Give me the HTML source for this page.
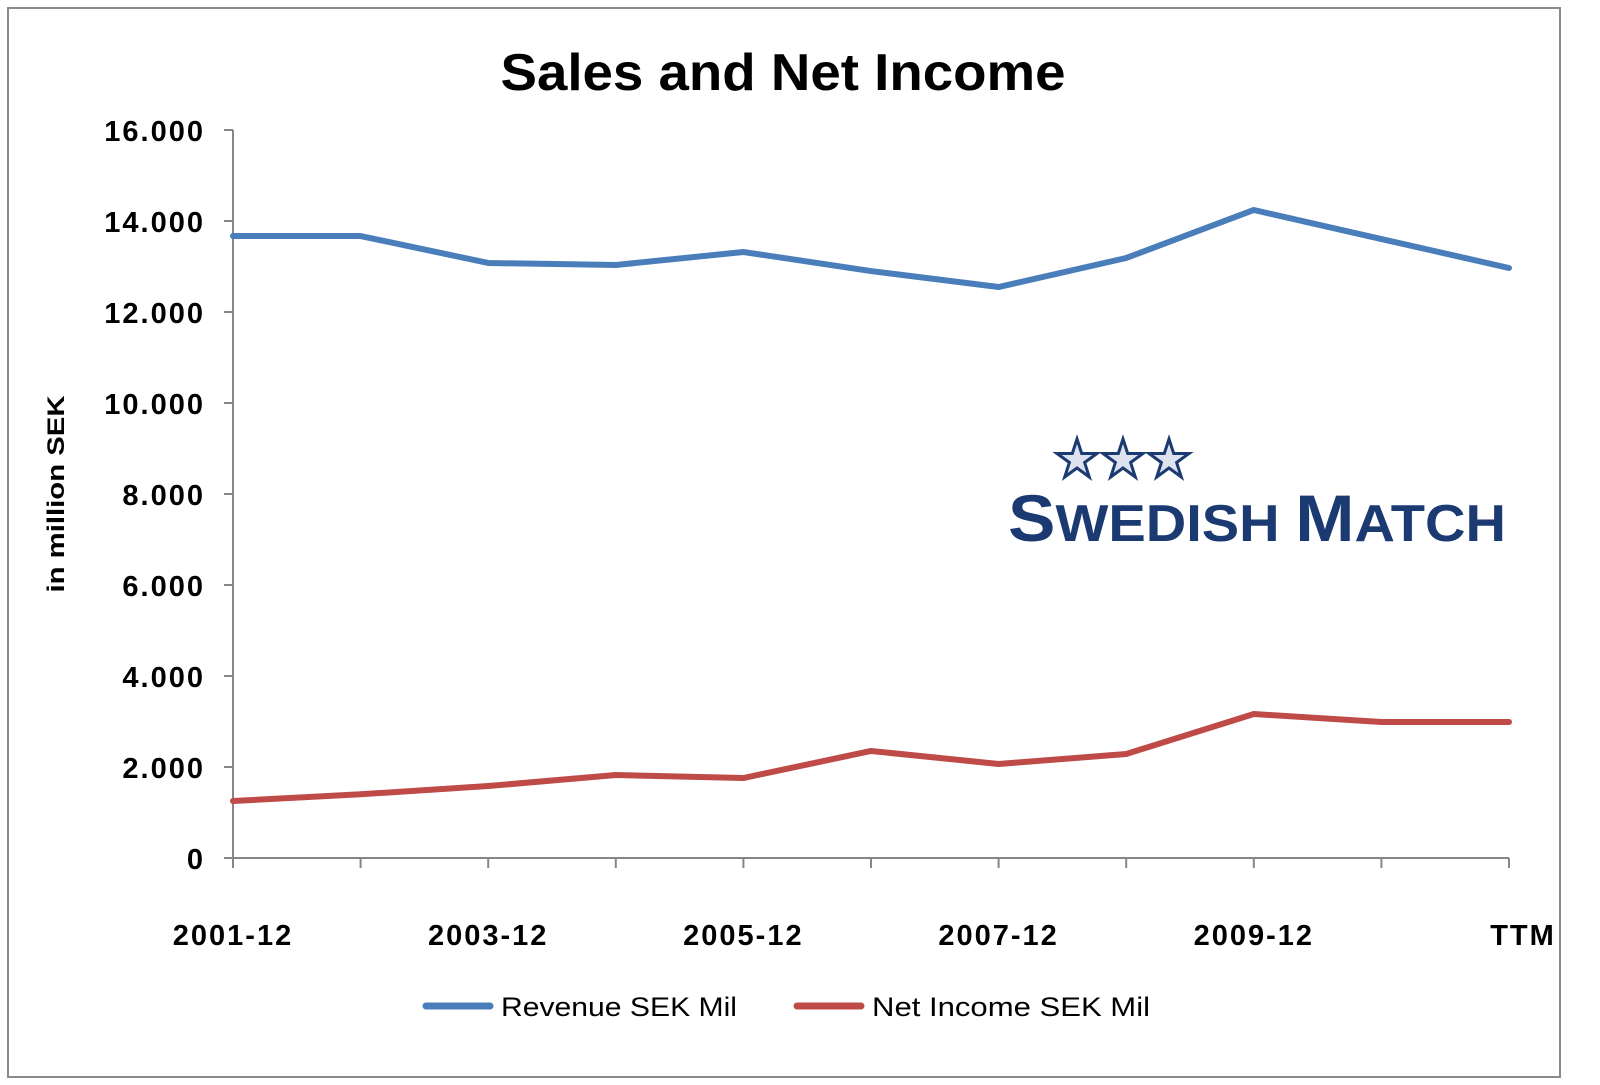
<!DOCTYPE html>
<html><head><meta charset="utf-8"><style>
body{margin:0;background:#fff}
svg{display:block;font-family:"Liberation Sans",sans-serif}
</style></head><body>
<svg id="chart" width="1600" height="1085">
<rect x="8" y="8" width="1552" height="1069" fill="#fff" stroke="#8a8a8a" stroke-width="2"/>
<text x="783" y="90" text-anchor="middle" font-size="52" font-weight="bold" textLength="565" lengthAdjust="spacingAndGlyphs">Sales and Net Income</text>
<text transform="translate(64,494) rotate(-90)" text-anchor="middle" font-size="24" font-weight="bold" textLength="197" lengthAdjust="spacingAndGlyphs">in million  SEK</text>
<g id="yaxis"></g>
<g id="xaxis"></g>
<g id="series"></g>
<g fill="#1b3a72">
<g id="stars"></g>
<text x="1008" y="541" font-size="66" font-weight="bold" textLength="498" lengthAdjust="spacingAndGlyphs">S<tspan font-size="52">WEDISH </tspan>M<tspan font-size="52">ATCH</tspan></text>
</g>
<g>
<line x1="426" y1="1006" x2="490" y2="1006" stroke="#4a7ebb" stroke-width="7" stroke-linecap="round"/>
<text x="501" y="1016" font-size="27" textLength="236" lengthAdjust="spacingAndGlyphs">Revenue SEK Mil</text>
<line x1="797" y1="1006" x2="861" y2="1006" stroke="#be4b48" stroke-width="7" stroke-linecap="round"/>
<text x="872" y="1016" font-size="27" textLength="278" lengthAdjust="spacingAndGlyphs">Net Income SEK Mil</text>
</g>
</svg>
<script>
const categories=["2001-12","2002-12","2003-12","2004-12","2005-12","2006-12","2007-12","2008-12","2009-12","2010-12","TTM"];
const xLabels=["2001-12","","2003-12","","2005-12","","2007-12","","2009-12","","TTM"];
const revenue=[13670,13670,13077,13033,13319,12900,12549,13187,14242,13604,12967];
const netIncome=[1253,1400,1582,1824,1758,2352,2066,2286,3165,2989,2989];
const yTicks=[0,2000,4000,6000,8000,10000,12000,14000,16000];
const yTickLabels=["0","2.000","4.000","6.000","8.000","10.000","12.000","14.000","16.000"];
const NS="http://www.w3.org/2000/svg";
const x0=233,x1=1509,y0=858,y1=130,yMax=16000;
const xs=i=>x0+(x1-x0)*i/(categories.length-1);
const ys=v=>y0-(y0-y1)*v/yMax;
function mk(t,a,p){const e=document.createElementNS(NS,t);for(const k in a)e.setAttribute(k,a[k]);p.appendChild(e);return e;}
const ya=document.getElementById('yaxis'),xa=document.getElementById('xaxis'),sg=document.getElementById('series');
const ax=mk('line',{x1:x0,y1:y1,x2:x0,y2:y0,stroke:'#868686','stroke-width':2},ya);


yTicks.forEach((v,i)=>{
 const t=mk('line',{x1:x0-9,x2:x0,y1:ys(v),y2:ys(v),stroke:'#868686','stroke-width':2},ya);
 
 
 const l=mk('text',{x:x0-28,y:ys(v)+11,'text-anchor':'end','font-size':29,'font-weight':'bold','letter-spacing':2},ya);
 l.textContent=yTickLabels[i];
 
 
});
const bx=mk('line',{x1:x0,y1:y0,x2:x1,y2:y0,stroke:'#868686','stroke-width':2},xa);


categories.forEach((c,i)=>{
 const t=mk('line',{x1:xs(i),x2:xs(i),y1:y0,y2:y0+10,stroke:'#868686','stroke-width':2},xa);
 
 
 if(xLabels[i]){
  const l=mk('text',{x:xs(i)+(i==categories.length-1?14:0),y:945,'text-anchor':'middle','font-size':29,'font-weight':'bold','letter-spacing':2},xa);
  l.textContent=xLabels[i];
  
  
 }
});
function line(data,color,name){
 const p=mk('polyline',{points:data.map((v,i)=>xs(i)+','+ys(v)).join(' '),fill:'none',stroke:color,'stroke-width':6,'stroke-linejoin':'round','stroke-linecap':'round'},sg);
 
 
}
line(revenue,'#4a7ebb','revenue-line');
line(netIncome,'#be4b48','net-income-line');
const st=document.getElementById('stars');
[1077,1123,1169].forEach(cx=>{
 let pts=[];for(let k=0;k<10;k++){const r=k%2?8:21,a=-Math.PI/2+k*Math.PI/5;pts.push((cx+r*Math.cos(a)).toFixed(1)+','+(460+r*Math.sin(a)).toFixed(1));}
 const s=mk('polygon',{points:pts.join(' '),fill:'#dde3ee',stroke:'#1b3a72','stroke-width':3},st);
 
 
});
</script>
</body></html>
